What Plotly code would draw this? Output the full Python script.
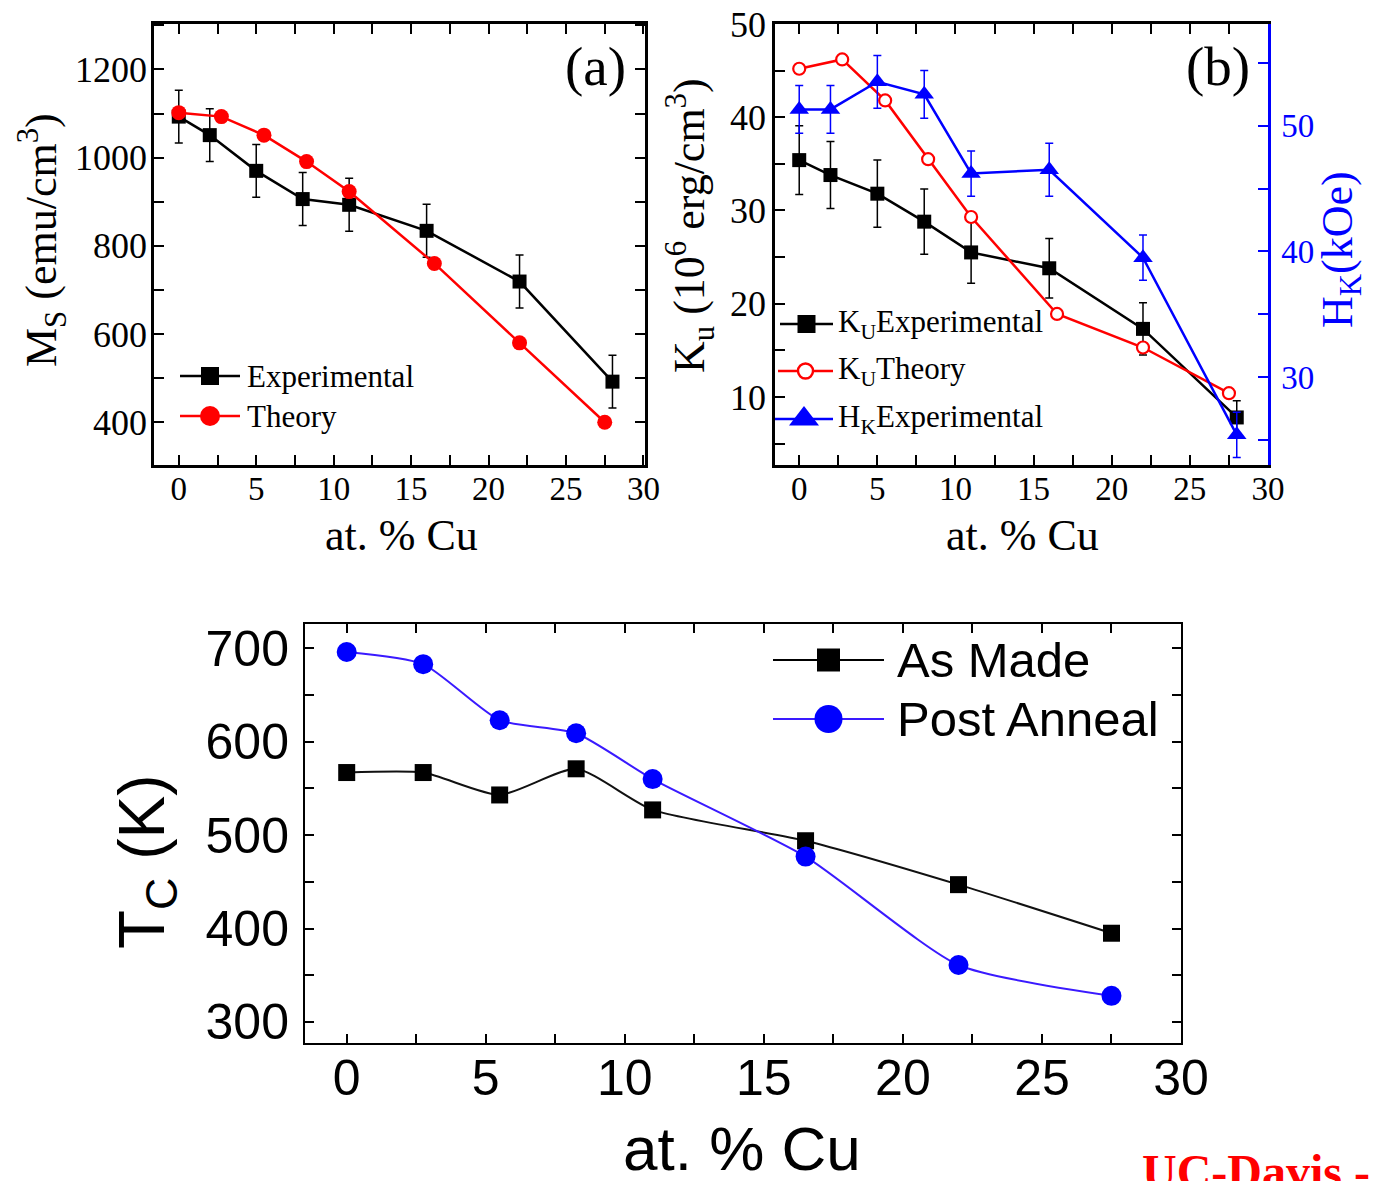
import plotly.graph_objects as go

W, H = 1375, 1181

# ---------------- data ----------------
# (a) saturation magnetisation vs Cu content
cu_exp = [0, 2, 5, 8, 11, 16, 22, 28]
ms_exp = [1093, 1051, 970, 906, 893, 834, 719, 492]
ms_exp_err = [60, 60, 60, 60, 60, 60, 60, 60]
cu_theory = [0, 2.75, 5.5, 8.25, 11, 16.5, 22, 27.5]
ms_theory = [1102, 1093, 1051, 991, 923, 760, 580, 400]

# (b) anisotropy constant and anisotropy field
ku_exp = [35.4, 33.8, 31.8, 28.8, 25.5, 23.8, 17.3, 7.8]
ku_exp_err = [3.7, 3.6, 3.6, 3.5, 3.3, 3.2, 2.8, 1.8]
ku_theory = [45.2, 46.2, 41.8, 35.5, 29.3, 18.9, 15.3, 10.4]
hk_exp = [51.3, 51.3, 53.5, 52.5, 46.2, 46.5, 39.5, 25.4]
hk_exp_err = [1.9, 1.9, 2.1, 1.9, 1.8, 2.1, 1.8, 1.8]

# (c) Curie temperature
cu_tc = [0, 2.75, 5.5, 8.25, 11, 16.5, 22, 27.5]
tc_as_made = [567, 567, 543, 571, 527, 494, 447, 395]
tc_post_anneal = [696, 683, 623, 609, 560, 477, 361, 328]

# ---------------- styles ----------------
SERIF = "Liberation Serif"
SANS = "Liberation Sans"
RED = "#ff0000"
BLUE = "#0000ff"
PURPLE_BLUE = "#3a1aff"


def px_x(p):
    return p / W


def px_y(p):
    return 1 - p / H


fig = go.Figure()

# ---- panel (a)
fig.add_trace(go.Scatter(
    x=cu_exp, y=ms_exp, mode="lines+markers", xaxis="x", yaxis="y",
    line=dict(color="black", width=2.5),
    marker=dict(symbol="square", size=14, color="black"),
    error_y=dict(type="data", array=ms_exp_err, color="black", thickness=1.5, width=4),
))
fig.add_trace(go.Scatter(
    x=cu_theory, y=ms_theory, mode="lines+markers", xaxis="x", yaxis="y",
    line=dict(color=RED, width=2.5),
    marker=dict(symbol="circle", size=15, color=RED),
))

# ---- panel (b)
fig.add_trace(go.Scatter(
    x=cu_exp, y=ku_exp, mode="lines+markers", xaxis="x2", yaxis="y2",
    line=dict(color="black", width=2.5),
    marker=dict(symbol="square", size=14, color="black"),
    error_y=dict(type="data", array=ku_exp_err, color="black", thickness=1.5, width=4),
))
fig.add_trace(go.Scatter(
    x=cu_theory, y=ku_theory, mode="lines+markers", xaxis="x2", yaxis="y2",
    line=dict(color=RED, width=2.5),
    marker=dict(symbol="circle", size=12, color="white", line=dict(color=RED, width=2.2)),
))
fig.add_trace(go.Scatter(
    x=cu_exp, y=hk_exp, mode="lines+markers", xaxis="x2", yaxis="y3",
    line=dict(color=BLUE, width=2.5),
    marker=dict(symbol="triangle-up", size=17, color=BLUE),
    error_y=dict(type="data", array=hk_exp_err, color=BLUE, thickness=1.5, width=4),
))

# ---- panel (c)
fig.add_trace(go.Scatter(
    x=cu_tc, y=tc_as_made, mode="lines+markers", xaxis="x3", yaxis="y4",
    line=dict(color="#111111", width=2, shape="spline", smoothing=0.6),
    marker=dict(symbol="square", size=17, color="black"),
))
fig.add_trace(go.Scatter(
    x=cu_tc, y=tc_post_anneal, mode="lines+markers", xaxis="x3", yaxis="y4",
    line=dict(color=PURPLE_BLUE, width=2, shape="spline", smoothing=0.6),
    marker=dict(symbol="circle", size=20, color=BLUE),
))


# ---- legend keys, drawn on a full-page overlay in pixel units
def legend_key(x0, x1, y, color, lw, symbol, size, fill, mlw=0):
    fig.add_trace(go.Scatter(
        x=[x0, x1], y=[y, y], mode="lines", xaxis="x4", yaxis="y5",
        line=dict(color=color, width=lw), hoverinfo="skip",
    ))
    fig.add_trace(go.Scatter(
        x=[(x0 + x1) / 2], y=[y], mode="markers", xaxis="x4", yaxis="y5",
        marker=dict(symbol=symbol, size=size, color=fill, line=dict(color=color, width=mlw)),
        hoverinfo="skip",
    ))


legend_key(180, 240, 376, "black", 2.5, "square", 18, "black")
legend_key(180, 240, 416, RED, 2.5, "circle", 20, RED)
legend_key(780, 833, 324, "black", 2.5, "square", 18, "black")
legend_key(778, 833, 371, RED, 2.5, "circle", 15, "white", 2.4)
legend_key(775, 833, 419, BLUE, 2.5, "triangle-up", 26, BLUE)
legend_key(773, 884, 660, "black", 2, "square", 23, "black")
legend_key(773, 884, 719, PURPLE_BLUE, 2, "circle", 28, BLUE)

annotations = []


def label(x, y, text, size, family=SERIF, color="black", xanchor="left", angle=0, bold=False):
    annotations.append(dict(
        x=x, y=y, xref="x4", yref="y5", text=f"<b>{text}</b>" if bold else text,
        showarrow=False, xanchor=xanchor, yanchor="middle", textangle=angle,
        font=dict(family=family, size=size, color=color),
    ))


# legend texts
label(245, 376, "Experimental", 31)
label(245, 416, "Theory", 31)
label(836, 324, "K<sub>U</sub>Experimental", 31)
label(836, 371, "K<sub>U</sub>Theory", 31)
label(836, 419, "H<sub>K</sub>Experimental", 31)
label(895, 660, "As Made", 49, family=SANS)
label(895, 719, "Post Anneal", 49, family=SANS)

# panel tags
label(595, 66, "(a)", 55, xanchor="center")
label(1218, 66, "(b)", 55, xanchor="center")

# axis titles
label(401, 535, "at. % Cu", 44, xanchor="center")
label(1022, 535, "at. % Cu", 44, xanchor="center")
label(42, 240, "M<sub>S</sub> (emu/cm<sup>3</sup>)", 44, xanchor="center", angle=-90)
label(690, 226, "K<sub>u</sub> (10<sup>6</sup> erg/cm<sup>3</sup>)", 44, xanchor="center", angle=-90)
label(1340, 250, "H<sub>K</sub>(kOe)", 44, xanchor="center", angle=-90, color=BLUE)
label(742, 1148, "at. % Cu", 62, family=SANS, xanchor="center")
label(146, 862, "T<sub>C</sub> (K)", 64, family=SANS, xanchor="center", angle=-90)

# footer text running off the bottom edge
label(1140, 1171, "UC-Davis -", 48, color=RED, bold=True)


def frame_axis(domain, rng, dtick, minor, font, tick0=None, color="black", lw=2.5, ticklen=10,
               mirror="allticks", anchor=None, **kw):
    d = dict(
        domain=domain, range=rng, dtick=dtick, showgrid=False, zeroline=False,
        showline=True, linecolor=color, linewidth=lw, mirror=mirror, automargin=False,
        ticks="inside", ticklen=ticklen, tickwidth=2, tickcolor=color,
        minor=dict(dtick=minor, ticks="inside", ticklen=ticklen, tickwidth=2, tickcolor=color, showgrid=False),
        tickfont=font, anchor=anchor,
    )
    if tick0 is not None:
        d["tick0"] = tick0
        d["tickmode"] = "linear"
    d.update(kw)
    return d


serif_xtick = dict(family=SERIF, size=33, color="black")
serif_ytick = dict(family=SERIF, size=36, color="black")
sans_tick = dict(family=SANS, size=50, color="black")

ax_a_x = [px_x(154), px_x(645)]
ax_ab_y = [px_y(465), px_y(24)]
ax_b_x = [px_x(775), px_x(1268)]
ax_c_x = [px_x(305), px_x(1181)]
ax_c_y = [px_y(1043), px_y(624)]

fig.update_layout(
    width=W, height=H,
    margin=dict(l=0, r=0, t=0, b=0, autoexpand=False),
    paper_bgcolor="white", plot_bgcolor="rgba(0,0,0,0)",
    showlegend=False,
    xaxis=frame_axis(ax_a_x, [-1.6, 30.1], 5, 2.5, serif_xtick, tick0=0, anchor="y", ticklabelstandoff=-7),
    yaxis=frame_axis(ax_ab_y, [303, 1303], 200, 100, serif_ytick, tick0=400, anchor="x", ticklabelstandoff=-3),
    xaxis2=frame_axis(ax_b_x, [-1.55, 30.0], 5, 2.5, serif_xtick, tick0=0, anchor="y2", ticklabelstandoff=-7),
    yaxis2=frame_axis(ax_ab_y, [2.7, 50], 10, 5, serif_ytick, tick0=10, anchor="x2", mirror=False,
                      ticklabelstandoff=-1),
    yaxis3=frame_axis(ax_ab_y, [23.0, 58.1], 10, 5, dict(family=SERIF, size=33, color=BLUE), tick0=30,
                      color=BLUE, anchor="x2", mirror=False, overlaying="y2", side="right",
                      ticklabelstandoff=4),
    xaxis3=frame_axis(ax_c_x, [-1.5, 30.0], 5, 2.5, sans_tick, tick0=0, anchor="y4", lw=2, ticklen=9,
                      ticklabelstandoff=-10),
    yaxis4=frame_axis(ax_c_y, [277.5, 726], 100, 50, sans_tick, tick0=300, anchor="x3", lw=2, ticklen=9,
                      ticklabelstandoff=4),
    xaxis4=dict(domain=[0, 1], range=[0, W], visible=False, anchor="y5", automargin=False),
    yaxis5=dict(domain=[0, 1], range=[H, 0], visible=False, anchor="x4", automargin=False),
    annotations=annotations,
)

fig.write_html("out.html")
